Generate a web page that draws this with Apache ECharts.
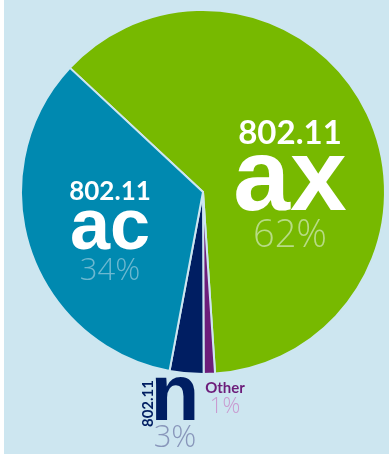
<!DOCTYPE html>
<html>
<head>
<meta charset="utf-8">
<script src="https://cdn.jsdelivr.net/npm/echarts@6/dist/echarts.min.js"></script>
<style>
  html, body { margin: 0; padding: 0; background: #ffffff; }
  #main { position: absolute; left: 4px; top: 0; width: 385px; height: 454px; }
</style>
</head>
<body>
<div id="main"></div>
<script>
var names = ['ax', 'Other', 'n', 'ac'];
var shares = [62, 1, 3, 34];
var colors = ['#77b900', '#6c1d7a', '#001e62', '#0089b0'];
// where each label sits (px, in chart coords)
var labelPos = [[286, 187], [221, 399], [171, 413], [106, 234]];

var chart = echarts.init(document.getElementById('main'));

var data = [];
for (var i = 0; i < names.length; i++) {
    data.push({ name: names[i], value: shares[i], itemStyle: { color: colors[i] } });
}

var heavy = 'Liberation Sans';
var rich = {
    v: { color: '#ffffff', fontFamily: 'Lato', fontWeight: 'bold', fontSize: 33, lineHeight: 32 },
    big: { color: '#ffffff', fontFamily: heavy, fontWeight: 'bold', fontSize: 102, lineHeight: 66 },
    p: { color: '#b8dc85', fontFamily: 'Open Sans', fontWeight: 300, fontSize: 38, lineHeight: 42 },
    v2: { color: '#ffffff', fontFamily: 'Lato', fontWeight: 'bold', fontSize: 26, lineHeight: 24 },
    big2: { color: '#ffffff', fontFamily: heavy, fontWeight: 'bold', fontSize: 72, lineHeight: 50 },
    p2: { color: '#6cb8d0', fontFamily: 'Open Sans', fontWeight: 300, fontSize: 31, lineHeight: 34 },
    bign: { color: '#001e62', fontFamily: heavy, fontWeight: 'bold', fontSize: 80, lineHeight: 50 },
    pn: { color: '#8896ba', fontFamily: 'Open Sans', fontWeight: 300, fontSize: 31, lineHeight: 30 },
    t: { color: '#6c1d7a', fontFamily: 'Lato', fontWeight: 'bold', fontSize: 15, lineHeight: 16 },
    po: { color: '#c99ad0', fontFamily: 'Open Sans', fontWeight: 300, fontSize: 22, lineHeight: 22 }
};

chart.setOption({
    backgroundColor: '#cde6f0',
    animation: false,
    graphic: [{
        type: 'text',
        left: 137, top: 380,
        rotation: Math.PI / 2,
        style: { text: '802.11', fill: '#001e62', font: 'bold 15px Lato' }
    }],
    series: [{
        type: 'pie',
        center: [199, 192],
        radius: [0, 182],
        startAngle: 137,
        clockwise: true,
        silent: true,
        itemStyle: { borderColor: '#cde6f0', borderWidth: 2 },
        labelLine: { show: false },
        label: {
            show: true,
            position: 'inside',
            align: 'center',
            verticalAlign: 'middle',
            rich: rich,
            formatter: function (p) {
                if (p.dataIndex === 0) return '{v|802.11}\n{big|ax}\n{p|' + p.value + '%}';
                if (p.dataIndex === 3) return '{v2|802.11}\n{big2|ac}\n{p2|' + p.value + '%}';
                if (p.dataIndex === 2) return '{bign|n}\n{pn|' + p.value + '%}';
                return '{t|Other}\n{po|' + p.value + '%}';
            }
        },
        labelLayout: function (p) {
            return { x: labelPos[p.dataIndex][0], y: labelPos[p.dataIndex][1], align: 'center', verticalAlign: 'middle' };
        },
        data: data
    }]
});
</script>
</body>
</html>
